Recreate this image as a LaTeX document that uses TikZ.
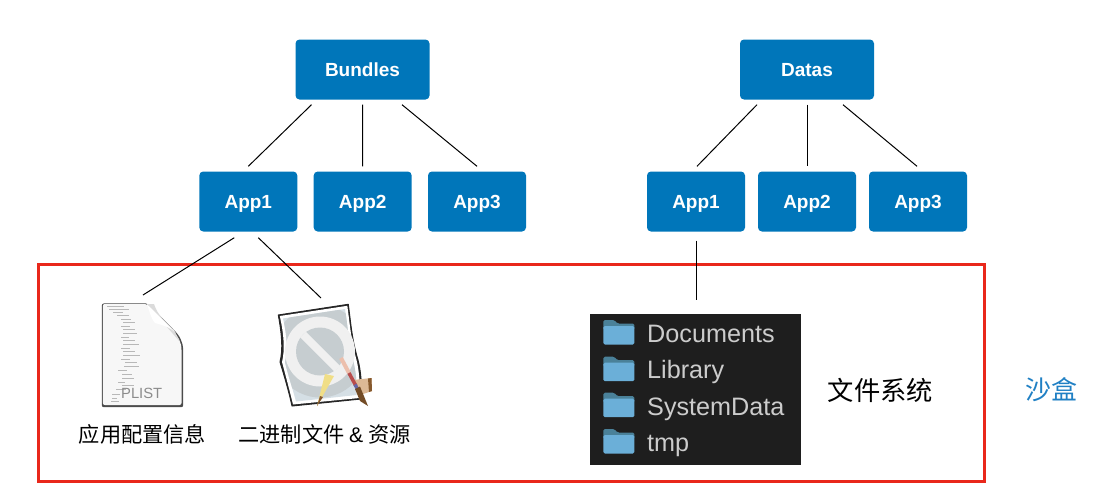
\documentclass[tikz,border=0pt]{standalone}
\usepackage{fontspec}
\setmainfont{Liberation Sans}
\newfontfamily\cjk{Noto Sans CJK SC}
\usetikzlibrary{calc}
\definecolor{boxblue}{HTML}{0076BA}
\definecolor{redframe}{HTML}{E9281B}
\definecolor{darkbg}{HTML}{1E1E1E}
\definecolor{foldertop}{HTML}{4A8199}
\definecolor{folderbody}{HTML}{6BAFD8}
\definecolor{sandblue}{HTML}{2080C4}
\definecolor{pagebg}{HTML}{D5DFE5}
\definecolor{discgray}{HTML}{C6CDD0}
\tikzset{
  bluebox/.style={draw=none,fill=boxblue,rounded corners=4pt,text=white,font=\fontsize{19}{21}\selectfont\bfseries,inner sep=0pt,text height=14pt,text depth=0pt},
  topbox/.style={bluebox,minimum width=134pt,minimum height=60pt},
  appbox/.style={bluebox,minimum width=98pt,minimum height=60pt},
  conn/.style={draw=black,line width=1pt},
  caption/.style={font=\cjk\fontsize{21.2}{24}\selectfont,text=black,inner sep=0pt},
  foldertext/.style={font=\fontsize{25.2}{28}\selectfont,text=black!20,inner sep=0pt,anchor=base west},
  tick/.style={draw=black!28,line width=.4pt},
  foldertab/.pic={
    \fill[foldertop,rounded corners=1.5pt] (0,10) -- (0,0) -- (11,0) -- (14,3.5) -- (31,3.5) -- (31,10) -- cycle;
    \fill[folderbody,rounded corners=1.5pt] (0,6) rectangle (31,24.5);
  }
}
\begin{document}
\begin{tikzpicture}[x=1pt,y=-1pt]
\useasboundingbox (0,0) rectangle (1112,498);
\node[topbox] (bundles) at (362.5,69.5) {Bundles};
\node[topbox] (datas) at (807,69.5) {Datas};
\node[appbox] (b1) at (248.3,201.5) {App1};
\node[appbox] (b2) at (362.7,201.5) {App2};
\node[appbox] (b3) at (477,201.5) {App3};
\node[appbox] (d1) at (696,201.5) {App1};
\node[appbox] (d2) at (807,201.5) {App2};
\node[appbox] (d3) at (918,201.5) {App3};
% connectors
\draw[conn] ($(bundles.south)+(-51,5)$) -- ($(b1.north)+(0,-5)$);
\draw[conn] ($(bundles.south)+(0,5)$) -- ($(b2.north)+(0,-5)$);
\draw[conn] ($(bundles.south)+(39.5,5)$) -- ($(b3.north)+(0,-5)$);
\draw[conn] ($(datas.south)+(-50,5)$) -- ($(d1.north)+(1,-5)$);
\draw[conn] ($(datas.south)+(.5,5)$) -- ($(d2.north)+(.5,-5)$);
\draw[conn] ($(datas.south)+(36,5)$) -- ($(d3.north)+(-1,-5)$);
% red frame
\draw[redframe,line width=3pt] (38.5,264) rectangle (984,481);
\coordinate (plistfile) at (143,295);
\coordinate (binfile) at (321,298);
\coordinate (docs) at (696.5,300);
\draw[conn] ($(b1.south)+(-14,6)$) -- (plistfile);
\draw[conn] ($(b1.south)+(10,6)$) -- (binfile);
\draw[conn] ($(d1.south)+(.5,9)$) -- (docs);
% plist icon
\fill[black!70,rounded corners=2pt] (101.8,303.5) -- (147.5,303.3) -- (172,328) .. controls (180,336) and (183,342) .. (183.2,352) -- (183.2,407.2) -- (101.8,407.2) -- cycle;
\fill[black!3,rounded corners=2pt] (102.8,304) -- (147,304) -- (171,328.5) .. controls (178,336) and (181.5,342) .. (181.5,352) -- (181.5,405) -- (102.8,405) -- cycle;
\fill[black!14] (147,304) -- (154,304) .. controls (158,316) and (165,321) .. (174,330) -- (180,342) -- cycle;
\fill[white] (147,304) .. controls (150,314) and (152,320) .. (155,323) .. controls (162,325) and (170,327) .. (176,333) -- cycle;
\foreach \ax/\ay/\al in {107/306/17,109/309/20,113/312/10,117/315/12,121/319/10,123/322/12,121/326/9,123/329/12,123/333/14,121/337/8,123/340/12,123/344/16,121/348/9,123/351/12,123/355/17,121/359/9,125/362/12,124/366/15,118/370/9,122/374/10,122/378/12,118/382/7,122/385/12,116/389/10,112/394/8,112/398/5,111/401/8}
  \draw[tick] (\ax,\ay) -- ++(\al,0);
\node[inner sep=0pt,text=black!45,font=\fontsize{14.8}{16}\selectfont] (plistlabel) at (141.7,393.5) {PLIST};
% app icon
\def\pageoutline{(278.3,315) -- (348.3,304.3) .. controls (351,325) and (352,340) .. (358,360) .. controls (361,372) and (362,385) .. (361,399) -- (292,406) .. controls (289,392) and (284,375) .. (280,362) .. controls (283,350) and (282,335) .. cycle}
\fill[black!85,line width=1pt,draw=black!85,line join=round] \pageoutline;
\fill[white] (279.8,316) -- (347.3,305.8) .. controls (350,325) and (351,340) .. (356.5,360) .. controls (359.5,372) and (360,385) .. (359.5,398) -- (293,404.5) .. controls (290,392) and (285.5,375) .. (282,362) .. controls (285,350) and (284,335) .. cycle;
\begin{scope}
\clip (283,318.5) -- (345,309) .. controls (347.5,325) and (348.5,340) .. (353,360) .. controls (356,372) and (357,383) .. (356.5,395) -- (296,401.5) .. controls (293,390) and (288,375) .. (285,362) .. controls (288,350) and (287,335) .. cycle;
\fill[pagebg] (270,300) rectangle (370,410);
\fill[discgray] (320,351.5) circle (46);
\end{scope}
\fill[black!6] (320,351.5) circle (35);
\fill[discgray] (320,351.5) circle (24);
\draw[black!6,line width=8pt] (303,334.5) -- (337,368.5);
% ruler, pencil, brush
\fill[brown!55!white] (353,380) -- (371.5,378) -- (372,391) -- (363,394) -- cycle;
\fill[brown!70!black] (368,378.5) -- (371.5,378) -- (372,391) -- (369,392) -- cycle;
\fill[yellow!55!brown!55] (334,376) -- (325,374) -- (317,406) -- cycle;
\fill[brown!70!black] (320,396) -- (323,397) -- (317,406) -- cycle;
\draw[red!25!brown!40!white,line width=4pt] (341,358) -- (349,373);
\draw[red!60!black!70,line width=3.5pt] (349,373) -- (356,386);
\draw[blue!40!black!60,line width=3.5pt] (355,384.5) -- (358,390);
\fill[brown!60!black] (355,389) -- (360,386.5) -- (368,406) -- (360,401) -- cycle;
% captions
\node[caption] (cap1) at (142.5,434) {应用配置信息};
\node[caption] (cap2) at (324.5,434) {二进制文件 {\rmfamily\&} 资源};
% folder panel
\fill[darkbg] (590,314) rectangle (801,465);
\foreach \fy in {320,356.7,392.7,429}
  \pic at (603.3,\fy) {foldertab};
\node[foldertext] (f1) at (647,342) {Documents};
\node[foldertext] (f2) at (647,378.5) {Library};
\node[foldertext] (f3) at (647,415) {SystemData};
\node[foldertext] (f4) at (647,451) {tmp};
\node[font=\cjk\fontsize{26.3}{30}\selectfont,inner sep=0pt] (fs) at (880.5,390) {文件系统};
\node[font=\cjk\fontsize{26}{30}\selectfont,inner sep=0pt,text=sandblue] (sb) at (1051,390) {沙盒};
\end{tikzpicture}
\end{document}
